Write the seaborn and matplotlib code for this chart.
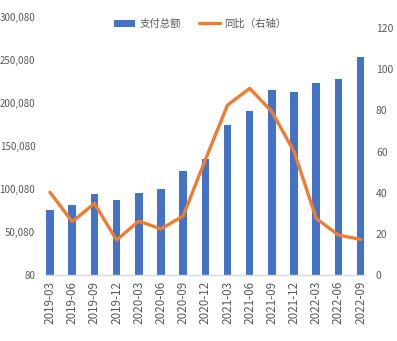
import numpy as np
import pandas as pd
import matplotlib
matplotlib.use("Agg")
import matplotlib.pyplot as plt
import seaborn as sns
from matplotlib.patches import Patch
from matplotlib.lines import Line2D

categories = ["2019-03", "2019-06", "2019-09", "2019-12", "2020-03", "2020-06",
              "2020-09", "2020-12", "2021-03", "2021-06", "2021-09", "2021-12",
              "2022-03", "2022-06", "2022-09"]
payment_total = [76200, 82000, 94800, 87000, 95500, 100500, 121000, 135000,
                 174000, 191400, 215800, 212600, 223000, 227700, 253200]
yoy = [40.2, 25.9, 34.8, 17.0, 26.2, 22.4, 28.7, 56.0,
       82.6, 90.7, 79.4, 60.0, 27.5, 19.4, 17.3]
left_ticks = [80, 50080, 100080, 150080, 200080, 250080, 300080]
right_ticks = [0, 20, 40, 60, 80, 100, 120]
bar_label = "支付总额"
line_label = "同比（右轴）"

sns.set_theme(style="white")
plt.rcParams['font.family'] = ['Noto Sans CJK SC', 'DejaVu Sans']
plt.rcParams['axes.unicode_minus'] = False

BLUE = "#4472C4"
ORANGE = "#ED7D31"
GRAY = "#595959"
FS_Y = 7.0
FS_X = 8.4
FS_L = 7.5

df = pd.DataFrame({"cat": categories, "val": payment_total})

fig = plt.figure(figsize=(3.97, 3.41), dpi=100)
ax = fig.add_axes([0.1134, 0.1935, 0.8056, 0.7565])

sns.barplot(data=df, x="cat", y="val", color=BLUE, width=0.34,
            saturation=1, ax=ax, edgecolor="none")
ax.set_xlim(-0.225, 14.19)
ax.set_ylim(80, 300080)
ax.set_yticks(left_ticks)
ax.set_yticklabels([f"{v:,}" for v in left_ticks], color=GRAY, fontsize=FS_Y)
ax.set_xlabel("")
ax.set_ylabel("")
pos = np.arange(len(categories))
ax.set_xticks(pos)
ax.set_xticklabels(categories, rotation=90, color=GRAY, fontsize=FS_X)
ax.set_xticks(pos - 0.15, minor=True)
ax.tick_params(axis="x", which="major", length=0, pad=4)
ax.tick_params(axis="x", which="minor", length=4, color="#D9D9D9", width=0.8)
ax.tick_params(axis="y", length=0, pad=7)
for s in ["left", "right", "top"]:
    ax.spines[s].set_visible(False)
ax.spines["bottom"].set_color("#D9D9D9")
ax.spines["bottom"].set_linewidth(1.0)

ax2 = ax.twinx()
sns.lineplot(x=pos, y=yoy, color=ORANGE, linewidth=2.4, ax=ax2)
ax2.set_ylim(0, 125.4)
ax2.set_yticks(right_ticks)
ax2.set_yticklabels([str(v) for v in right_ticks], color=GRAY, fontsize=FS_Y + 0.5)
ax2.tick_params(axis="y", length=0, pad=8)
for s in ["left", "right", "top", "bottom"]:
    ax2.spines[s].set_visible(False)
ax2.set_ylabel("")

handles = [Patch(facecolor=BLUE, edgecolor="none", label=bar_label),
           Line2D([0], [0], color=ORANGE, linewidth=2.4, label=line_label)]
leg = fig.legend(handles=handles, loc="center", bbox_to_anchor=(0.505, 0.930),
                 ncol=2, frameon=False, fontsize=FS_L, handlelength=2.0,
                 handleheight=0.6, handletextpad=0.4, columnspacing=1.8)
for t in leg.get_texts():
    t.set_color(GRAY)

fig.savefig("out.png", dpi=100, facecolor="white")
